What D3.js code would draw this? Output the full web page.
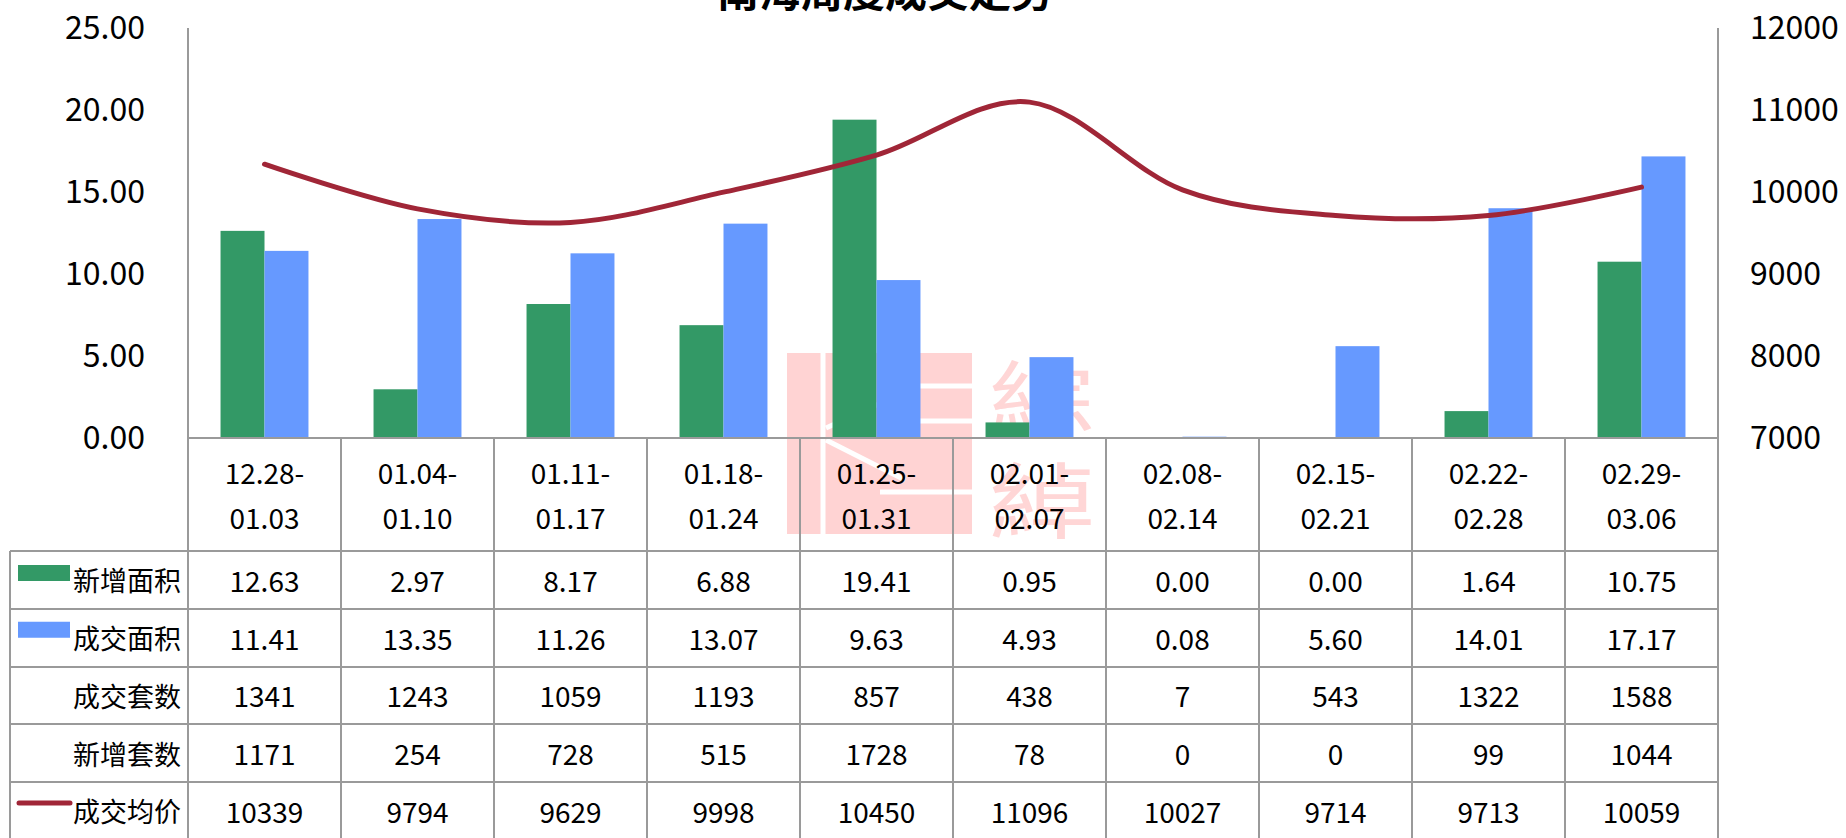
<!DOCTYPE html>
<html>
<head>
<meta charset="utf-8">
<script src="https://cdn.jsdelivr.net/npm/d3@7"></script>
<style>
  html, body { margin: 0; padding: 0; background: #fff; }
  svg { display: block; font-family: "Noto Sans CJK SC", "Noto Sans", sans-serif; }
</style>
</head>
<body>
<svg id="chart" width="1846" height="838"></svg>
<script>
// ---- data ----
const title = "南海周度成交走势";
const categories = ["12.28-01.03","01.04-01.10","01.11-01.17","01.18-01.24","01.25-01.31","02.01-02.07","02.08-02.14","02.15-02.21","02.22-02.28","02.29-03.06"];
const newArea   = [12.63, 2.97, 8.17, 6.88, 19.41, 0.95, 0.00, 0.00, 1.64, 10.75];
const dealArea  = [11.41, 13.35, 11.26, 13.07, 9.63, 4.93, 0.08, 5.60, 14.01, 17.17];
const dealUnits = [1341, 1243, 1059, 1193, 857, 438, 7, 543, 1322, 1588];
const newUnits  = [1171, 254, 728, 515, 1728, 78, 0, 0, 99, 1044];
const avgPrice  = [10339, 9794, 9629, 9998, 10450, 11096, 10027, 9714, 9713, 10059];
const leftTicks  = [0, 5, 10, 15, 20, 25];
const rightTicks = [7000, 8000, 9000, 10000, 11000, 12000];
const seriesNames = ["新增面积", "成交面积", "成交套数", "新增套数", "成交均价"];

// ---- layout ----
const svg = d3.select("#chart");
const L = 188, R = 1718, T = 28, B = 438;
const tableTop = 551, rowH = 57.75, tableLeft = 10, H = 838;
const green = "#339966", blue = "#6699FF", red = "#A02637", grid = "#9a9a9a";

const x = d3.scaleBand().domain(categories).range([L, R]).paddingInner(0).paddingOuter(0);
const xs = d3.scaleBand().domain(["新增面积", "成交面积"]).range([0, x.bandwidth()]).paddingInner(0).paddingOuter(0.74);
const yL = d3.scaleLinear().domain([0, 25]).range([B, T]);
const yR = d3.scaleLinear().domain([7000, 12000]).range([B, T]);

// ---- watermark ----
const wm = svg.append("g").attr("fill", "#FFD3D3");
wm.append("rect").attr("x", 787).attr("y", 353).attr("width", 185).attr("height", 181);
const wmw = svg.append("g").attr("stroke", "#fff").attr("stroke-width", 5);
wmw.append("line").attr("x1", 823).attr("x2", 823).attr("y1", 353).attr("y2", 534);
[386, 421, 492].forEach(yy => wmw.append("line").attr("x1", 880).attr("x2", 972).attr("y1", yy).attr("y2", yy));
wmw.append("line").attr("x1", 826).attr("y1", 428).attr("x2", 905).attr("y2", 392);
wmw.append("line").attr("x1", 826).attr("y1", 440).attr("x2", 905).attr("y2", 480);
svg.append("text").attr("transform", "translate(1042,430) scale(1.15,0.9)").attr("text-anchor", "middle").attr("font-size", 92).attr("fill", "#FFD6D6").text("綜");
svg.append("text").attr("transform", "translate(1042,532) scale(1.15,0.9)").attr("text-anchor", "middle").attr("font-size", 92).attr("fill", "#FFD6D6").text("綽");

// ---- title ----
svg.append("text").attr("x", 885).attr("y", 7).attr("text-anchor", "middle")
  .attr("font-size", 42).attr("font-weight", "bold").attr("fill", "#000").text(title);

// ---- bars ----
const barData = [];
categories.forEach((c, i) => {
  barData.push({ c, s: "新增面积", v: newArea[i], col: green });
  barData.push({ c, s: "成交面积", v: dealArea[i], col: blue });
});
svg.append("g").selectAll("rect").data(barData).join("rect")
  .attr("x", d => x(d.c) + xs(d.s))
  .attr("width", xs.bandwidth())
  .attr("y", d => yL(d.v))
  .attr("height", d => B - yL(d.v))
  .attr("fill", d => d.col);

// ---- axes ----
const axL = svg.append("g").attr("transform", `translate(${L},0)`)
  .call(d3.axisLeft(yL).tickValues(leftTicks).tickFormat(d3.format(".2f")).tickSize(0).tickPadding(43));
axL.select(".domain").remove();
axL.selectAll("text").attr("font-size", 32).attr("fill", "#000").attr("font-family", "'Noto Sans CJK SC', sans-serif");

const axR = svg.append("g").attr("transform", `translate(${R},0)`)
  .call(d3.axisRight(yR).tickValues(rightTicks).tickFormat(d3.format("d")).tickSize(0).tickPadding(32));
axR.select(".domain").remove();
axR.selectAll("text").attr("font-size", 32).attr("fill", "#000").attr("font-family", "'Noto Sans CJK SC', sans-serif");

// ---- grid / table lines ----
const lines = svg.append("g").attr("stroke", grid).attr("stroke-width", 2).attr("shape-rendering", "crispEdges");
lines.append("line").attr("x1", L).attr("x2", L).attr("y1", T).attr("y2", H);
lines.append("line").attr("x1", R).attr("x2", R).attr("y1", T).attr("y2", H);
lines.append("line").attr("x1", L).attr("x2", R).attr("y1", B).attr("y2", B);
categories.forEach((c, i) => {
  if (i > 0) lines.append("line").attr("x1", x(c)).attr("x2", x(c)).attr("y1", B).attr("y2", H);
});
d3.range(6).forEach(r => {
  const yy = tableTop + r * rowH;
  lines.append("line").attr("x1", tableLeft).attr("x2", R).attr("y1", yy).attr("y2", yy);
});
lines.append("line").attr("x1", tableLeft).attr("x2", tableLeft).attr("y1", tableTop).attr("y2", H);

// ---- category labels ----
const catG = svg.append("g").attr("font-size", 28).attr("fill", "#000").attr("text-anchor", "middle");
categories.forEach(c => {
  const [a, b] = c.split("-");
  const cx = x(c) + x.bandwidth() / 2;
  catG.append("text").attr("x", cx).attr("y", 472).attr("dominant-baseline", "central").text(a + "-");
  catG.append("text").attr("x", cx).attr("y", 517).attr("dominant-baseline", "central").text(b);
});

// ---- table values ----
const rows = [
  { name: seriesNames[0], vals: newArea, fmt: d3.format(".2f") },
  { name: seriesNames[1], vals: dealArea, fmt: d3.format(".2f") },
  { name: seriesNames[2], vals: dealUnits, fmt: d3.format("d") },
  { name: seriesNames[3], vals: newUnits, fmt: d3.format("d") },
  { name: seriesNames[4], vals: avgPrice, fmt: d3.format("d") }
];
const tbl = svg.append("g").attr("font-size", 27).attr("fill", "#000");
rows.forEach((row, r) => {
  const cy = tableTop + r * rowH + rowH / 2;
  tbl.append("text").attr("x", 181).attr("y", cy).attr("text-anchor", "end").attr("dominant-baseline", "central").text(row.name);
  row.vals.forEach((v, i) => {
    tbl.append("text").attr("x", x(categories[i]) + x.bandwidth() / 2).attr("y", cy)
      .attr("text-anchor", "middle").attr("dominant-baseline", "central").attr("font-size", 28).text(row.fmt(v));
  });
});
// legend swatches
svg.append("rect").attr("x", 18).attr("y", tableTop + 14).attr("width", 52).attr("height", 16).attr("fill", green);
svg.append("rect").attr("x", 18).attr("y", tableTop + rowH + 13).attr("width", 52).attr("height", 16).attr("fill", blue);
svg.append("line").attr("x1", 19).attr("x2", 70).attr("y1", tableTop + 4 * rowH + 21).attr("y2", tableTop + 4 * rowH + 21)
  .attr("stroke", red).attr("stroke-width", 5).attr("stroke-linecap", "round");

// ---- price line ----
const line = d3.line()
  .x((d, i) => x(categories[i]) + x.bandwidth() / 2)
  .y(d => yR(d))
  .curve(d3.curveCardinal.tension(0));
svg.append("path").datum(avgPrice).attr("d", line)
  .attr("fill", "none").attr("stroke", red).attr("stroke-width", 5).attr("stroke-linecap", "round");
</script>
</body>
</html>
